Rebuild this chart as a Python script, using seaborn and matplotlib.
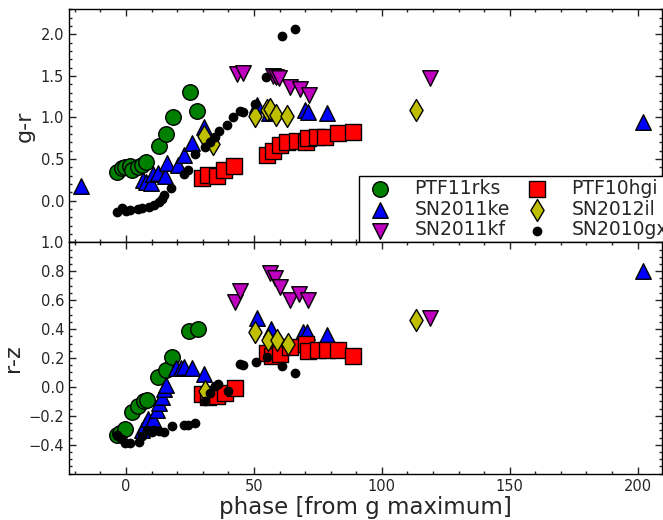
import numpy as np
import matplotlib
matplotlib.use("Agg")
import matplotlib.pyplot as plt
from matplotlib.ticker import AutoMinorLocator
import seaborn as sns

# colour evolution of SLSNe, phase from g maximum
# ---- g-r ----
rks_gr_x = [-3.4, -1.7, -0.4, 1.6, 2.2, 4.8, 6.1, 7.8, 13.0, 15.6, 18.2, 25.0, 27.9]
rks_gr_y = [0.35, 0.39, 0.41, 0.42, 0.37, 0.41, 0.43, 0.46, 0.66, 0.80, 1.00, 1.31, 1.08]

ke_gr_x = [-17.7, 6.8, 7.8, 9.6, 10.4, 12.6, 15.2, 15.9, 20.4, 22.8, 25.7, 30.5, 51.0, 56.0, 70.0, 71.2, 78.4, 202.0]
ke_gr_y = [0.18, 0.25, 0.22, 0.21, 0.32, 0.33, 0.30, 0.45, 0.43, 0.55, 0.69, 0.88, 1.15, 1.05, 1.09, 1.06, 1.05, 0.95]

kf_gr_x = [43.2, 45.8, 57.3, 58.5, 59.9, 64.0, 68.0, 71.5, 118.8]
kf_gr_y = [1.52, 1.53, 1.50, 1.49, 1.47, 1.37, 1.34, 1.27, 1.48]

hgi_gr_x = [29.6, 32.2, 35.4, 38.3, 42.2, 55.0, 57.5, 60.2, 63.0, 66.7, 70.3, 71.2, 74.7, 77.7, 82.9, 88.8]
hgi_gr_y = [0.27, 0.31, 0.30, 0.37, 0.42, 0.55, 0.60, 0.67, 0.71, 0.72, 0.70, 0.75, 0.76, 0.76, 0.81, 0.83]

il_gr_x = [30.3, 33.8, 50.4, 55.0, 56.3, 58.6, 63.0, 113.3]
il_gr_y = [0.78, 0.68, 1.02, 1.09, 1.10, 1.03, 1.02, 1.09]

gx_gr_x = [-3.4, -1.7, 0.0, 1.6, 4.8, 6.1, 9.1, 11.1, 12.9, 13.9, 14.8, 17.4, 22.7, 24.3, 27.0,
           30.9, 32.8, 34.8, 36.5, 39.3, 41.7, 44.5, 45.8, 50.6, 54.6, 60.8, 66.0]
gx_gr_y = [-0.13, -0.09, -0.12, -0.11, -0.10, -0.09, -0.07, -0.05, -0.02, 0.02, 0.07, 0.15, 0.32, 0.37, 0.56,
           0.65, 0.71, 0.77, 0.84, 0.91, 1.00, 1.08, 1.06, 1.16, 1.49, 1.98, 2.06]

# ---- r-z ----
rks_rz_x = [-3.5, -2.3, -0.4, 2.2, 4.8, 7.2, 8.0, 12.6, 15.5, 17.8, 24.7, 28.2]
rks_rz_y = [-0.33, -0.32, -0.29, -0.175, -0.13, -0.10, -0.09, 0.07, 0.12, 0.21, 0.39, 0.40]

ke_rz_x = [6.1, 7.4, 8.7, 10.7, 12.0, 13.0, 13.9, 14.8, 15.6, 19.5, 21.4, 22.7, 25.7, 30.5, 51.3, 56.5, 69.3, 70.8, 78.6, 202.0]
ke_rz_y = [-0.30, -0.26, -0.225, -0.225, -0.16, -0.11, -0.07, -0.015, 0.01, 0.13, 0.13, 0.135, 0.13, 0.09, 0.476, 0.40, 0.38, 0.377, 0.36, 0.80]

kf_rz_x = [42.6, 44.5, 56.3, 58.2, 60.2, 64.0, 67.7, 71.2, 118.8]
kf_rz_y = [0.59, 0.66, 0.786, 0.75, 0.69, 0.60, 0.64, 0.60, 0.476]

hgi_rz_x = [29.6, 32.2, 35.4, 38.7, 42.6, 55.0, 56.9, 60.2, 64.0, 70.3, 71.2, 75.1, 78.4, 82.9, 88.8]
hgi_rz_y = [-0.046, -0.07, -0.06, -0.04, -0.007, 0.234, 0.216, 0.23, 0.276, 0.30, 0.245, 0.257, 0.257, 0.257, 0.216]

il_rz_x = [30.9, 50.4, 55.6, 59.1, 63.4, 113.3]
il_rz_y = [-0.03, 0.38, 0.326, 0.326, 0.30, 0.464]

gx_rz_x = [-3.6, -1.7, -0.4, 1.6, 5.1, 6.1, 8.3, 10.0, 11.1, 13.0, 14.8, 17.8, 22.7, 24.3, 27.0,
           30.9, 32.8, 34.8, 35.8, 40.0, 44.5, 45.6, 50.8, 55.0, 60.8, 66.0]
gx_rz_y = [-0.33, -0.36, -0.386, -0.39, -0.38, -0.34, -0.30, -0.31, -0.295, -0.306, -0.313, -0.27, -0.26, -0.265, -0.25,
           -0.10, -0.04, 0.004, 0.02, -0.03, 0.16, 0.15, 0.17, 0.207, 0.142, 0.097]

names = ["PTF11rks", "SN2011ke", "SN2011kf", "PTF10hgi", "SN2012il", "SN2010gx"]
markers = ["o", "^", "v", "s", "d", "o"]
colors = ["green", "blue", "#bf00bf", "red", "#bfbf00", "black"]
sizes = [125, 125, 125, 120, 125, 36]

gr_data = [(rks_gr_x, rks_gr_y), (ke_gr_x, ke_gr_y), (kf_gr_x, kf_gr_y),
           (hgi_gr_x, hgi_gr_y), (il_gr_x, il_gr_y), (gx_gr_x, gx_gr_y)]
rz_data = [(rks_rz_x, rks_rz_y), (ke_rz_x, ke_rz_y), (kf_rz_x, kf_rz_y),
           (hgi_rz_x, hgi_rz_y), (il_rz_x, il_rz_y), (gx_rz_x, gx_rz_y)]

sns.set_style("ticks")
plt.rcParams.update({
    "xtick.direction": "in", "ytick.direction": "in",
    "xtick.top": True, "ytick.right": True,
    "xtick.major.size": 5, "ytick.major.size": 5,
    "xtick.minor.size": 2.5, "ytick.minor.size": 2.5,
    "xtick.minor.visible": True, "ytick.minor.visible": True,
    "xtick.labelsize": 10.5, "ytick.labelsize": 10.5,
    "axes.edgecolor": "black", "axes.linewidth": 1.0,
})

fig = plt.figure(figsize=(6.63, 5.2), dpi=100)
ax1 = fig.add_axes([69 / 663, 1 - 242.3 / 520, 592.7 / 663, 233.0 / 520])
ax2 = fig.add_axes([69 / 663, 1 - 473.7 / 520, 592.7 / 663, 231.4 / 520], sharex=ax1)

for (x, y), name, m, c, s in zip(gr_data, names, markers, colors, sizes):
    sns.scatterplot(x=x, y=y, ax=ax1, marker=m, color=c, s=s, edgecolor="black",
                    linewidth=1.0, label=name, zorder=3)
for (x, y), name, m, c, s in zip(rz_data, names, markers, colors, sizes):
    sns.scatterplot(x=x, y=y, ax=ax2, marker=m, color=c, s=s, edgecolor="black",
                    linewidth=1.0, legend=False, zorder=3)

ax1.set_xlim(-22.3, 209.4)
ax1.set_ylim(-0.5, 2.3)
ax2.set_ylim(-0.6, 1.0)
ax1.set_xticks([0, 50, 100, 150, 200])
ax1.set_yticks(np.arange(0, 2.01, 0.5))
ax2.set_yticks(np.arange(-0.4, 1.01, 0.2))
for ax in (ax1, ax2):
    ax.xaxis.set_minor_locator(AutoMinorLocator(5))
    ax.tick_params(which="both", top=True, right=True, direction="in", width=1.0)
ax1.yaxis.set_minor_locator(AutoMinorLocator(5))
ax2.yaxis.set_minor_locator(AutoMinorLocator(4))
ax1.tick_params(labelbottom=False)

ax1.set_ylabel("g-r", fontsize=16)
ax2.set_ylabel("r-z", fontsize=16)
ax2.set_xlabel("phase [from g maximum]", fontsize=16.5, labelpad=2)
ax1.set_xlabel("")

# legend runs past the right edge, as in the original crop
leg = ax1.legend(ncol=2, loc="lower left", bbox_to_anchor=((359 - 69) / 592.7, 0.0),
                 borderaxespad=0, fontsize=13.5, frameon=True, fancybox=False,
                 edgecolor="black", framealpha=1, labelspacing=0.1, borderpad=0.15,
                 handletextpad=0.9, columnspacing=0.5, handlelength=1.9)
leg.get_frame().set_linewidth(1.0)
leg.set_clip_on(False)

fig.savefig("out.png", dpi=100)
plt.close(fig)
